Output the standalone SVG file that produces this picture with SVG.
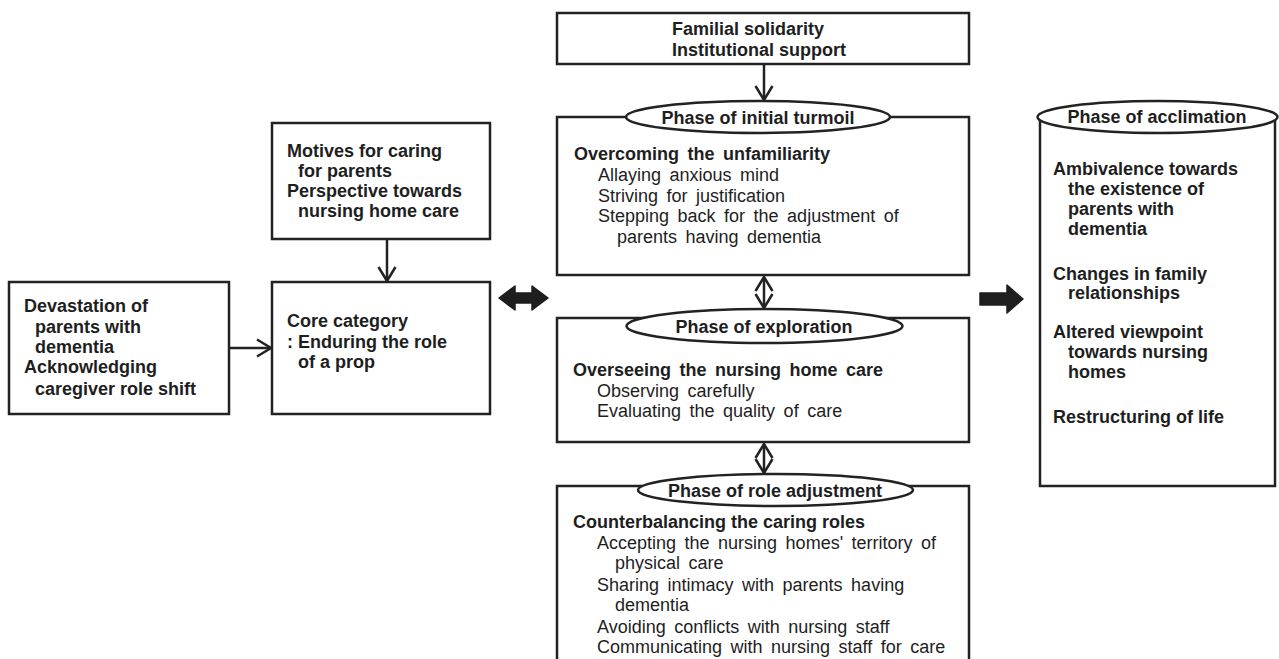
<svg xmlns="http://www.w3.org/2000/svg" width="1279" height="659" viewBox="0 0 1279 659">
<style>
.box{fill:#fff;stroke:#222;stroke-width:2.5}
.ell{fill:#fff;stroke:#222;stroke-width:2.5}
.t{font-family:"Liberation Sans",Arial,sans-serif;font-size:18px;fill:#1e1e1e}
.b{font-weight:bold}
.ws{word-spacing:3.5px}
.c{text-anchor:middle}
.ln{fill:none;stroke:#222;stroke-width:2.5}
.thick{fill:#1e1e1e;stroke:#1e1e1e;stroke-width:1.5;stroke-linejoin:round}
</style>
<defs>
<marker id="chev" viewBox="0 0 18 20" refX="16" refY="10" markerWidth="18" markerHeight="20" markerUnits="userSpaceOnUse" orient="auto-start-reverse">
<path d="M2,1.5 L16,10 L2,18.5" fill="none" stroke="#222" stroke-width="2.5"/>
</marker>
</defs>
<g id="connectors">
<line class="ln" x1="229" y1="348" x2="271" y2="348" marker-end="url(#chev)"/>
<line class="ln" x1="387" y1="239" x2="387" y2="281" marker-end="url(#chev)"/>
<line class="ln" x1="764" y1="64" x2="764" y2="100" marker-end="url(#chev)"/>
<line class="ln" x1="764" y1="277" x2="764" y2="308" marker-start="url(#chev)" marker-end="url(#chev)"/>
<line class="ln" x1="764" y1="444" x2="764" y2="473" marker-start="url(#chev)" marker-end="url(#chev)"/>
<polygon class="thick" points="499,298 515,286 515,293 532,293 532,286 548,298 532,310 532,303 515,303 515,310"/>
<polygon class="thick" points="980,293 1007,293 1007,285 1023,299 1007,313 1007,305 980,305"/>
</g>
<g id="node-devastation">
<rect class="box" x="9" y="282" width="220" height="132"/>
<text class="t b" x="24" y="312">Devastation of</text>
<text class="t b" x="35" y="333">parents with</text>
<text class="t b" x="35" y="353">dementia</text>
<text class="t b" x="24" y="373">Acknowledging</text>
<text class="t b" x="35" y="395">caregiver role shift</text>
</g>
<g id="node-motives">
<rect class="box" x="272" y="123" width="218" height="116"/>
<text class="t b" x="287" y="157">Motives for caring</text>
<text class="t b" x="298" y="177">for parents</text>
<text class="t b" x="287" y="197">Perspective towards</text>
<text class="t b" x="298" y="217">nursing home care</text>
</g>
<g id="node-core">
<rect class="box" x="272" y="282" width="218" height="132"/>
<text class="t b" x="287" y="327">Core category</text>
<text class="t b" x="287" y="348">: Enduring the role</text>
<text class="t b" x="298" y="368">of a prop</text>
</g>
<g id="node-support">
<rect class="box" x="557" y="13" width="412" height="51"/>
<text class="t b" x="672" y="35">Familial solidarity</text>
<text class="t b" x="672" y="56">Institutional support</text>
</g>
<g id="node-turmoil">
<rect class="box" x="557" y="117" width="412" height="158"/>
<ellipse class="ell" cx="758" cy="117" rx="132" ry="16"/>
<text class="t b c" x="758" y="124">Phase of initial turmoil</text>
<text class="t b ws" x="574" y="160">Overcoming the unfamiliarity</text>
<text class="t ws" x="598" y="181">Allaying anxious mind</text>
<text class="t ws" x="598" y="202">Striving for justification</text>
<text class="t ws" x="598" y="222">Stepping back for the adjustment of</text>
<text class="t ws" x="617" y="243">parents having dementia</text>
</g>
<g id="node-exploration">
<rect class="box" x="557" y="318" width="412" height="124"/>
<ellipse class="ell" cx="764.5" cy="326" rx="138" ry="17"/>
<text class="t b c" x="764" y="333">Phase of exploration</text>
<text class="t b ws" x="573" y="376">Overseeing the nursing home care</text>
<text class="t ws" x="597" y="397">Observing carefully</text>
<text class="t ws" x="597" y="417">Evaluating the quality of care</text>
</g>
<g id="node-role">
<rect class="box" x="557" y="486" width="412" height="190"/>
<ellipse class="ell" cx="775.5" cy="490" rx="137.5" ry="16"/>
<text class="t b c" x="775" y="497">Phase of role adjustment</text>
<text class="t b" x="573" y="528">Counterbalancing the caring roles</text>
<text class="t ws" x="597" y="549">Accepting the nursing homes' territory of</text>
<text class="t ws" x="615" y="569">physical care</text>
<text class="t ws" x="597" y="591">Sharing intimacy with parents having</text>
<text class="t ws" x="615" y="611">dementia</text>
<text class="t ws" x="597" y="633">Avoiding conflicts with nursing staff</text>
<text class="t ws" x="597" y="653">Communicating with nursing staff for care</text>
</g>
<g id="node-acclimation">
<rect class="box" x="1040" y="117" width="235" height="369"/>
<ellipse class="ell" cx="1157.5" cy="117" rx="120" ry="16"/>
<text class="t b c" x="1157" y="123">Phase of acclimation</text>
<text class="t b" x="1053" y="175">Ambivalence towards</text>
<text class="t b" x="1068" y="195">the existence of</text>
<text class="t b" x="1068" y="215">parents with</text>
<text class="t b" x="1068" y="235">dementia</text>
<text class="t b" x="1053" y="280">Changes in family</text>
<text class="t b" x="1068" y="299">relationships</text>
<text class="t b" x="1053" y="338">Altered viewpoint</text>
<text class="t b" x="1068" y="358">towards nursing</text>
<text class="t b" x="1068" y="378">homes</text>
<text class="t b" x="1053" y="423">Restructuring of life</text>
</g>
</svg>
